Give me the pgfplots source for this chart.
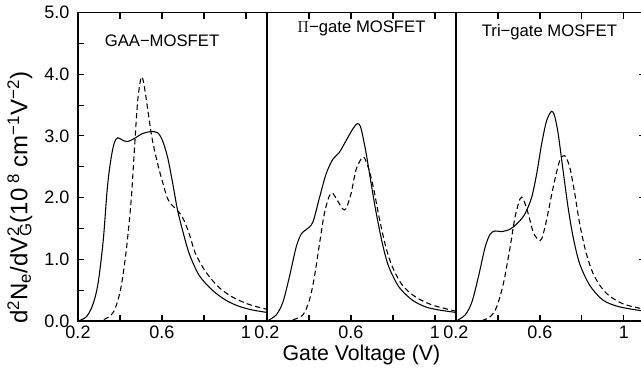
\documentclass[border=0pt]{standalone}
\usepackage{fontspec}
\setmainfont{Liberation Sans}
\usepackage{pgfplots}
\pgfplotsset{compat=1.18}
\pgfplotsset{
  panel/.style={
    scale only axis, width=141.75pt, height=231.4pt,
    xmin=0.2, xmax=1.1, ymin=0, ymax=5,
    xtick={0.2,0.6,1}, xticklabels={0.2,0.6,1}, minor xtick={0.4,0.8},
    tick align=inside,
    axis line style={line width=0.9pt},
    major tick length=4.5pt, minor tick length=4.5pt,
    every tick/.style={line width=0.8pt, black},
    every minor tick/.style={line width=0.8pt, black},
    tick label style={font=\fontsize{13.5}{15}\selectfont},
    /pgf/number format/assume math mode=true,
    clip=true,
  },
  sol/.style={black, line width=0.8pt, smooth, tension=0.5},
  das/.style={black, line width=0.8pt, smooth, tension=0.5, dash pattern=on 4pt off 2.5pt},
}
\begin{document}
\begin{tikzpicture}
% ---------------- Panel 1: GAA ----------------
\begin{axis}[panel, name=a1, at={(0,0)}, anchor=south west,
  ytick={0,1,2,3,4,5}, yticklabels={0.0,1.0,2.0,3.0,4.0,5.0},
  minor ytick={0.5,1.5,2.5,3.5,4.5}, ytick pos=left,
  yticklabel style={xshift=-3pt},
  ylabel={d\textsuperscript{2}N\textsubscript{e}/dV\rlap{\textsuperscript{2}}\textsubscript{G}(10\textsuperscript{\ 8} cm\textsuperscript{−1}V\textsuperscript{−2})},
  ylabel style={at={(ticklabel cs:0.4)}, font=\fontsize{18}{20}\selectfont, yshift=2pt},
]
\addplot[sol] coordinates {
(0.2,0) (0.24,0.07) (0.27,0.26) (0.295,0.6) (0.32,1.3) (0.34,2.17) (0.358,2.65)
(0.374,2.9) (0.39,2.97) (0.413,2.93) (0.437,2.91) (0.469,2.96) (0.508,3.04)
(0.548,3.07) (0.58,3.05) (0.603,2.92) (0.627,2.65) (0.65,2.25) (0.674,1.8)
(0.698,1.47) (0.73,1.09) (0.777,0.74) (0.84,0.5) (0.903,0.34) (0.966,0.24)
(1.03,0.18) (1.1,0.14)
};
\addplot[das] coordinates {
(0.2,0) (0.28,0) (0.32,0.02) (0.358,0.1) (0.38,0.23) (0.405,0.55) (0.43,1.15)
(0.453,1.95) (0.469,2.8) (0.484,3.56) (0.5,3.94) (0.511,3.89) (0.524,3.62)
(0.54,3.24) (0.555,2.92) (0.58,2.54) (0.603,2.25) (0.627,1.98) (0.65,1.87)
(0.682,1.76) (0.705,1.63) (0.73,1.41) (0.76,1.09) (0.808,0.8) (0.87,0.55)
(0.935,0.39) (1.014,0.27) (1.1,0.19)
};
\node[font=\fontsize{12.5}{14}\selectfont] at (axis cs:0.6,4.55) {GAA−MOSFET};
\end{axis}
% ---------------- Panel 2: Pi-gate ----------------
\begin{axis}[panel, name=a2, at={(a1.south east)}, anchor=south west,
  ytick=\empty,
  xlabel={Gate Voltage (V)},
  xlabel style={font=\fontsize{16}{18}\selectfont, yshift=2pt},
]
\addplot[sol] coordinates {
(0.2,0) (0.244,0.1) (0.276,0.31) (0.307,0.72) (0.339,1.2) (0.363,1.41)
(0.386,1.48) (0.418,1.6) (0.45,2.0) (0.481,2.38) (0.513,2.62) (0.544,2.73)
(0.576,2.92) (0.608,3.11) (0.631,3.2) (0.647,3.13) (0.67,2.76) (0.694,2.27)
(0.718,1.79) (0.75,1.25) (0.78,0.88) (0.829,0.55) (0.892,0.34) (0.955,0.23)
(1.018,0.18) (1.1,0.14)
};
\addplot[das] coordinates {
(0.2,0) (0.28,0) (0.323,0.02) (0.371,0.1) (0.402,0.34) (0.426,0.72) (0.45,1.25)
(0.473,1.74) (0.497,2.03) (0.513,2.07) (0.536,1.95) (0.56,1.82) (0.576,1.82)
(0.6,2.06) (0.623,2.44) (0.647,2.62) (0.663,2.65) (0.687,2.44) (0.71,2.11)
(0.734,1.68) (0.766,1.2) (0.797,0.88) (0.845,0.58) (0.908,0.39) (0.987,0.26)
(1.1,0.16)
};
\node[font=\fontsize{12.5}{14}\selectfont] at (axis cs:0.65,4.74) {$\Pi$−gate MOSFET};
\end{axis}
% ---------------- Panel 3: Tri-gate ----------------
\begin{axis}[panel, name=a3, at={(a2.south east)}, anchor=south west,
  ytick={1,2,3,4}, yticklabels={}, ytick pos=right,
]
\addplot[sol] coordinates {
(0.2,0) (0.244,0.1) (0.276,0.31) (0.307,0.72) (0.339,1.2) (0.363,1.41)
(0.386,1.46) (0.418,1.45) (0.458,1.49) (0.497,1.6) (0.529,1.74) (0.56,2.0)
(0.584,2.38) (0.608,2.87) (0.631,3.24) (0.655,3.4) (0.67,3.32) (0.687,3.03)
(0.71,2.44) (0.734,1.84) (0.758,1.36) (0.789,0.93) (0.837,0.58) (0.9,0.34)
(0.979,0.23) (1.1,0.16)
};
\addplot[das] coordinates {
(0.2,0) (0.28,0) (0.315,0.0) (0.363,0.07) (0.394,0.23) (0.426,0.61) (0.458,1.2)
(0.481,1.68) (0.505,1.98) (0.52,1.98) (0.544,1.74) (0.568,1.44) (0.592,1.32)
(0.608,1.33) (0.631,1.63) (0.663,2.17) (0.694,2.6) (0.718,2.68) (0.742,2.49)
(0.766,2.06) (0.789,1.58) (0.821,1.09) (0.86,0.72) (0.916,0.45) (0.995,0.28)
(1.1,0.19)
};
\node[font=\fontsize{12.5}{14}\selectfont] at (axis cs:0.645,4.68) {Tri−gate MOSFET};
\end{axis}
\pgfresetboundingbox
\path[use as bounding box] ([xshift=-58.5pt,yshift=-39.75pt]a1.south west) rectangle ([xshift=422.25pt,yshift=240.8pt]a1.south west);
\end{tikzpicture}
\end{document}
